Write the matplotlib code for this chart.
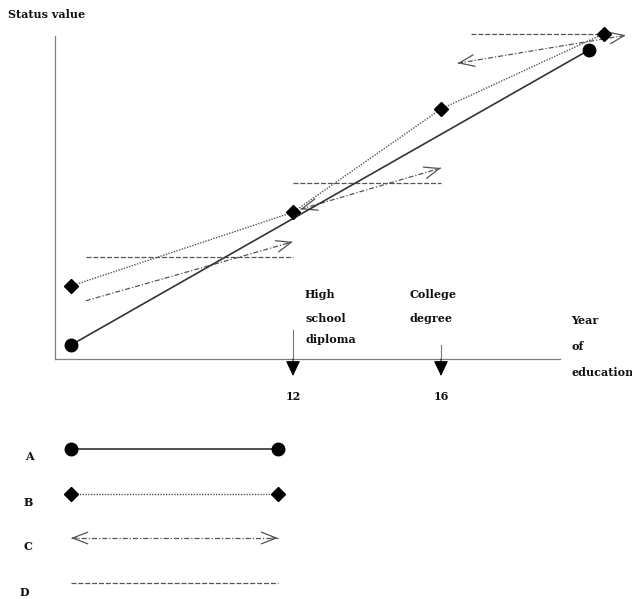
import matplotlib
matplotlib.use('Agg')
import matplotlib.pyplot as plt

# ---------------- data ----------------
years_A = [6, 20]
status_A = [1, 21]

years_B = [6, 12, 16, 20.4]
status_B = [5, 10, 17, 22.1]

C_start_x = [6.4, 12.2, 16.45]
C_start_y = [4.0, 10.2, 20.1]
C_end_x = [12.0, 16.0, 21.0]
C_end_y = [8.0, 13.0, 22.0]
C_heads = ['->', '<->', '<->']

D_x0 = [6.4, 12.0, 16.8]
D_x1 = [12.0, 16.0, 20.4]
D_y = [7.0, 12.0, 22.1]

tick_years = [12, 16]
tick_labels = ['12', '16']
milestone_years = [12, 16]
legend_labels = ['A', 'B', 'C', 'D']

# ---------------- styles ----------------
W, H = 632, 599
FONT = 'DejaVu Serif'
FS = 8
GREY = '#555555'
ls_B = (0, (1, 1))
ls_C = (0, (4, 1.6, 1, 1.6))
ls_D = (0, (4, 1.5))
HEAD = dict(arrowstyle='->,head_length=0.9,head_width=0.35', color=GREY, lw=0.9,
            mutation_scale=12, shrinkA=0, shrinkB=0)

fig = plt.figure(figsize=(W / 100, H / 100), dpi=100)
fig.patch.set_facecolor('white')


def put(s, x, y, **kw):
    kw.setdefault('fontsize', FS)
    kw.setdefault('family', FONT)
    kw.setdefault('va', 'center')
    kw.setdefault('fontweight', 'bold')
    kw.setdefault('color', '#111111')
    fig.text(x / W, 1 - y / H, s, **kw)


def draw_C(a, x0, y0, x1, y1, hs):
    a.plot([x0, x1], [y0, y1], color=GREY, lw=0.9, ls=ls_C, clip_on=False, zorder=3)
    t = 0.03
    if hs.endswith('>'):
        a.annotate('', xy=(x1, y1), xytext=(x1 - t * (x1 - x0), y1 - t * (y1 - y0)),
                   annotation_clip=False, arrowprops=HEAD, zorder=3)
    if hs.startswith('<'):
        a.annotate('', xy=(x0, y0), xytext=(x0 + t * (x1 - x0), y0 + t * (y1 - y0)),
                   annotation_clip=False, arrowprops=HEAD, zorder=3)


ax = fig.add_axes([55 / W, 1 - 359 / H, 505 / W, 323 / H])
ax.set_xlim(5.568, 19.216)
ax.set_ylim(0.051, 21.949)
for side in ['top', 'right']:
    ax.spines[side].set_visible(False)
for side in ['left', 'bottom']:
    ax.spines[side].set_color('#808080')
    ax.spines[side].set_linewidth(0.9)
ax.set_yticks([])
ax.set_xticks(tick_years, tick_labels)
ax.tick_params(axis='x', length=0, pad=23, labelsize=FS, labelcolor='#111111')
for lab in ax.get_xticklabels():
    lab.set_family(FONT)
    lab.set_fontweight('bold')

# A line
ax.plot(years_A, status_A, color='#333333', lw=1.2, marker='o', ms=9,
        mfc='black', mec='black', clip_on=False, zorder=4)
# B line
ax.plot(years_B, status_B, color=GREY, lw=1.0, ls=ls_B, marker='D', ms=7,
        mfc='black', mec='black', clip_on=False, zorder=4)
# D lines
for x0, x1, y in zip(D_x0, D_x1, D_y):
    ax.plot([x0, x1], [y, y], color=GREY, lw=0.9, ls=ls_D, clip_on=False, zorder=2)
# C arrows
for x0, y0, x1, y1, hs in zip(C_start_x, C_start_y, C_end_x, C_end_y, C_heads):
    draw_C(ax, x0, y0, x1, y1, hs)

# milestone arrows
arrow_tops = [2.0, 1.0]
for yr, top in zip(milestone_years, arrow_tops):
    ax.plot([yr, yr], [top, 0.051], color='#777777', lw=0.8, clip_on=False)
    ax.annotate('', xy=(yr, -1.1), xytext=(yr, 0.051), annotation_clip=False,
                arrowprops=dict(arrowstyle='-|>,head_length=0.95,head_width=0.45',
                                color='black', lw=0.7, mutation_scale=10,
                                shrinkA=0, shrinkB=0))

# texts
put('Status value', 8, 14)
put('High', 305, 295)
put('school', 305, 318)
put('diploma', 305, 340)
put('College', 409, 295)
put('degree', 409, 318)
put('Year', 571, 320)
put('of', 571, 347)
put('education', 571, 373)

# ---------------- legend ----------------
lax = fig.add_axes([0, 0, 1, 1], zorder=-1)
lax.set_xlim(0, W)
lax.set_ylim(H, 0)
lax.axis('off')
leg_y = [449, 494, 538, 583]
lab_y = [457, 502, 547, 592]
lab_x = [29, 28, 28, 24]
lx0, lx1 = 71, 278

lax.plot([lx0, lx1], [leg_y[0]] * 2, color='#333333', lw=1.2, marker='o', ms=9,
         mfc='black', mec='black')
lax.plot([lx0, lx1], [leg_y[1]] * 2, color=GREY, lw=1.0, ls=ls_B, marker='D', ms=7,
         mfc='black', mec='black')
draw_C(lax, lx0, leg_y[2], lx1, leg_y[2], '<->')
lax.plot([lx0, lx1], [leg_y[3]] * 2, color=GREY, lw=0.9, ls=ls_D)
for s, x, y in zip(legend_labels, lab_x, lab_y):
    put(s, x, y, ha='center')

fig.savefig('out.png', dpi=100, facecolor='white')
